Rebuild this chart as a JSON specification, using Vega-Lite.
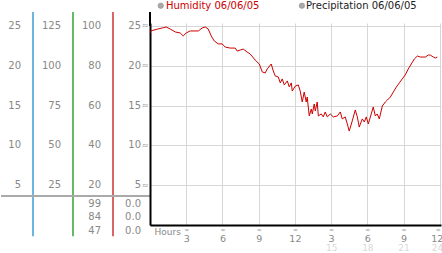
{
  "$schema": "https://vega.github.io/schema/vega-lite/v6.json",
  "background": "white",
  "padding": {"left": 0, "top": 0, "right": 0, "bottom": 0},
  "spacing": 0,
  "bounds": "flush",
  "config": {
    "view": {"stroke": null},
    "font": "DejaVu Sans",
    "axis": {"labelFont": "DejaVu Sans", "titleFont": "DejaVu Sans"},
    "text": {"font": "DejaVu Sans"}
  },
  "resolve": {"scale": {"x": "independent", "y": "independent"}},
  "datasets": {
    "scaleLabels": [
      {"col": "A", "level": 100, "label": "25"},
      {"col": "A", "level": 80, "label": "20"},
      {"col": "A", "level": 60, "label": "15"},
      {"col": "A", "level": 40, "label": "10"},
      {"col": "A", "level": 20, "label": "5"},
      {"col": "B", "level": 100, "label": "125"},
      {"col": "B", "level": 80, "label": "100"},
      {"col": "B", "level": 60, "label": "75"},
      {"col": "B", "level": 40, "label": "50"},
      {"col": "B", "level": 20, "label": "25"},
      {"col": "C", "level": 100, "label": "100"},
      {"col": "C", "level": 80, "label": "80"},
      {"col": "C", "level": 60, "label": "60"},
      {"col": "C", "level": 40, "label": "40"},
      {"col": "C", "level": 20, "label": "20"},
      {"col": "D", "level": 100, "label": "25"},
      {"col": "D", "level": 80, "label": "20"},
      {"col": "D", "level": 60, "label": "15"},
      {"col": "D", "level": 40, "label": "10"},
      {"col": "D", "level": 20, "label": "5"},
      {"col": "C", "level": 10.8, "label": "99"},
      {"col": "C", "level": 3.9, "label": "84"},
      {"col": "C", "level": -3.2, "label": "47"},
      {"col": "D", "level": 10.8, "label": "0.0"},
      {"col": "D", "level": 3.9, "label": "0.0"},
      {"col": "D", "level": -3.2, "label": "0.0"}
    ],
    "axisLines": [{"col": "A"}, {"col": "B"}, {"col": "C"}],
    "humidity": [
      {"hour": 0.0, "humidity": 96.5}, {"hour": 0.1, "humidity": 97.6}, {"hour": 0.6, "humidity": 98.4},
      {"hour": 1.09, "humidity": 99.1}, {"hour": 1.34, "humidity": 99.5}, {"hour": 1.67, "humidity": 98.5},
      {"hour": 2.09, "humidity": 97.0}, {"hour": 2.5, "humidity": 96.5}, {"hour": 2.75, "humidity": 95.0},
      {"hour": 3.0, "humidity": 96.5}, {"hour": 3.33, "humidity": 97.5}, {"hour": 4.0, "humidity": 97.5},
      {"hour": 4.32, "humidity": 99.0}, {"hour": 4.57, "humidity": 99.5}, {"hour": 4.82, "humidity": 98.5},
      {"hour": 5.07, "humidity": 95.0}, {"hour": 5.32, "humidity": 92.5}, {"hour": 5.65, "humidity": 91.0},
      {"hour": 5.98, "humidity": 91.0}, {"hour": 6.23, "humidity": 89.4}, {"hour": 6.64, "humidity": 88.9},
      {"hour": 7.06, "humidity": 88.9}, {"hour": 7.22, "humidity": 87.4}, {"hour": 7.47, "humidity": 87.9},
      {"hour": 7.72, "humidity": 88.4}, {"hour": 8.05, "humidity": 86.9}, {"hour": 8.3, "humidity": 85.9},
      {"hour": 8.71, "humidity": 82.9}, {"hour": 9.05, "humidity": 80.9}, {"hour": 9.3, "humidity": 76.9},
      {"hour": 9.54, "humidity": 76.4}, {"hour": 9.71, "humidity": 78.4}, {"hour": 10.04, "humidity": 80.9},
      {"hour": 10.21, "humidity": 77.4}, {"hour": 10.37, "humidity": 74.9}, {"hour": 10.62, "humidity": 74.4},
      {"hour": 10.79, "humidity": 71.4}, {"hour": 10.95, "humidity": 73.4}, {"hour": 11.12, "humidity": 70.4},
      {"hour": 11.37, "humidity": 72.4}, {"hour": 11.53, "humidity": 69.4}, {"hour": 11.7, "humidity": 71.4},
      {"hour": 11.78, "humidity": 67.3}, {"hour": 12.03, "humidity": 69.8}, {"hour": 12.28, "humidity": 70.4},
      {"hour": 12.44, "humidity": 67.3}, {"hour": 12.61, "humidity": 61.8}, {"hour": 12.77, "humidity": 66.8},
      {"hour": 12.94, "humidity": 61.8}, {"hour": 13.02, "humidity": 64.3}, {"hour": 13.19, "humidity": 54.8},
      {"hour": 13.36, "humidity": 58.3}, {"hour": 13.44, "humidity": 55.8}, {"hour": 13.6, "humidity": 60.8},
      {"hour": 13.69, "humidity": 57.3}, {"hour": 13.85, "humidity": 61.8}, {"hour": 13.94, "humidity": 54.8},
      {"hour": 14.18, "humidity": 55.8}, {"hour": 14.35, "humidity": 54.3}, {"hour": 14.51, "humidity": 56.8},
      {"hour": 14.68, "humidity": 54.3}, {"hour": 14.93, "humidity": 55.8}, {"hour": 15.18, "humidity": 54.3},
      {"hour": 15.51, "humidity": 54.8}, {"hour": 15.76, "humidity": 56.8}, {"hour": 15.92, "humidity": 53.3},
      {"hour": 16.17, "humidity": 54.3}, {"hour": 16.34, "humidity": 50.8}, {"hour": 16.5, "humidity": 47.2},
      {"hour": 16.75, "humidity": 52.3}, {"hour": 17.0, "humidity": 57.8}, {"hour": 17.17, "humidity": 54.3},
      {"hour": 17.33, "humidity": 49.2}, {"hour": 17.58, "humidity": 53.3}, {"hour": 17.75, "humidity": 51.8},
      {"hour": 17.91, "humidity": 54.3}, {"hour": 18.08, "humidity": 50.8}, {"hour": 18.25, "humidity": 54.3},
      {"hour": 18.49, "humidity": 59.3}, {"hour": 18.66, "humidity": 54.8}, {"hour": 18.82, "humidity": 55.8},
      {"hour": 18.99, "humidity": 53.3}, {"hour": 19.24, "humidity": 59.8}, {"hour": 19.49, "humidity": 61.8},
      {"hour": 19.66, "humidity": 62.8}, {"hour": 19.9, "humidity": 64.3}, {"hour": 20.15, "humidity": 66.8},
      {"hour": 20.4, "humidity": 69.3}, {"hour": 20.65, "humidity": 71.4}, {"hour": 20.89, "humidity": 73.4},
      {"hour": 21.14, "humidity": 75.4}, {"hour": 21.39, "humidity": 78.4}, {"hour": 21.64, "humidity": 80.9},
      {"hour": 21.89, "humidity": 83.4}, {"hour": 22.14, "humidity": 84.9}, {"hour": 22.39, "humidity": 84.4},
      {"hour": 22.8, "humidity": 84.4}, {"hour": 23.05, "humidity": 85.4}, {"hour": 23.21, "humidity": 85.4},
      {"hour": 23.46, "humidity": 84.4}, {"hour": 23.63, "humidity": 83.9}, {"hour": 23.8, "humidity": 84.4}
    ]
  },
  "hconcat": [
    {
      "width": 149,
      "height": 202,
      "layer": [
        {
          "data": {"name": "axisLines"},
          "mark": {"type": "rule", "strokeWidth": 1.5},
          "encoding": {
            "x": {"field": "col", "type": "nominal", "bandPosition": 1.3,
                  "scale": {"domain": ["A", "B", "C", "D"], "range": [-20, 140], "paddingInner": 0, "paddingOuter": 0},
                  "axis": null},
            "y": {"datum": 107, "type": "quantitative", "scale": {"domain": [0, 101.5], "nice": false, "zero": false}, "axis": null},
            "y2": {"datum": -5.7},
            "color": {"field": "col", "type": "nominal", "scale": {"domain": ["A", "B", "C"], "range": ["#3a9fd6", "#33a333", "#cc3333"]}, "legend": null}
          }
        },
        {
          "data": {"values": [{}]},
          "mark": {"type": "rule", "color": "#aaaaaa", "strokeWidth": 2},
          "encoding": {"y": {"datum": 14.6, "type": "quantitative", "axis": null}}
        },
        {
          "data": {"name": "scaleLabels"},
          "mark": {"type": "text", "align": "right", "baseline": "middle", "fontSize": 10, "color": "#888888"},
          "encoding": {
            "x": {"field": "col", "type": "nominal", "bandPosition": 1, "axis": null},
            "y": {"field": "level", "type": "quantitative", "axis": null},
            "text": {"field": "label", "type": "nominal"}
          }
        }
      ]
    },
    {
      "width": 291,
      "height": 202,
      "data": {"name": "humidity"},
      "resolve": {"axis": {"x": "independent", "y": "independent"}},
      "layer": [
        {
          "mark": {"type": "line", "color": "#cc0000", "strokeWidth": 1},
          "encoding": {
            "x": {"field": "hour", "type": "quantitative",
                  "scale": {"domain": [0, 24.1], "nice": false, "zero": false},
                  "axis": {"orient": "bottom", "values": [3, 6, 9, 12, 15, 18, 21, 24], "labelExpr": "datum.value > 12 ? datum.value - 12 : datum.value",
                           "labelAlign": {"condition": {"test": "datum.value == 24", "value": "right"}, "value": "center"},
                           "labelOffset": {"condition": {"test": "datum.value == 24", "value": 3}, "value": 0},
                           "grid": true, "gridColor": "#d6d6d6", "domainColor": "#000000", "domainWidth": 2,
                           "ticks": false, "labelPadding": 8, "labelColor": "#888888", "labelFontSize": 9.5, "labelBound": false, "title": null}},
            "y": {"field": "humidity", "type": "quantitative",
                  "scale": {"domain": [0, 101.5], "nice": false, "zero": false},
                  "axis": {"orient": "left", "values": [20, 40, 60, 80, 100], "labelExpr": "'≈'", "labelFontSize": 8, "labelColor": "#999999",
                           "labelPadding": 2, "grid": true, "gridColor": "#d6d6d6", "domainColor": "#000000", "domainWidth": 2,
                           "ticks": false, "title": null}}
          }
        },
        {
          "mark": {"type": "line", "opacity": 0},
          "encoding": {
            "x": {"field": "hour", "type": "quantitative",
                  "axis": {"orient": "bottom", "values": [15, 18, 21, 24], "labelColor": "#d8d8d8", "labelFontSize": 9, "labelPadding": 18,
                           "labelAlign": {"condition": {"test": "datum.value == 24", "value": "right"}, "value": "center"},
                           "labelOffset": {"condition": {"test": "datum.value == 24", "value": 3}, "value": 0},
                           "grid": false, "domain": false, "ticks": false, "labelBound": false, "title": null}},
            "y": {"field": "humidity", "type": "quantitative", "axis": null}
          }
        },
        {
          "mark": {"type": "line", "opacity": 0},
          "encoding": {
            "x": {"field": "hour", "type": "quantitative",
                  "axis": {"orient": "bottom", "values": [3, 6, 9, 12, 15, 18, 21, 24], "labelExpr": "'≈'", "labelColor": "#999999", "labelFontSize": 6,
                           "labelOffset": {"condition": {"test": "datum.value == 24", "value": -2}, "value": 0},
                           "labelPadding": 1, "grid": false, "domain": false, "ticks": false, "labelBound": false, "title": null}},
            "y": {"field": "humidity", "type": "quantitative", "axis": null}
          }
        },
        {
          "mark": {"type": "line", "opacity": 0},
          "encoding": {
            "x": {"field": "hour", "type": "quantitative",
                  "axis": {"orient": "bottom", "values": [0], "labelExpr": "'Hours'", "labelAlign": "left", "labelOffset": 4, "labelColor": "#888888",
                           "labelFontSize": 9, "labelPadding": 2, "grid": false, "domain": false, "ticks": false, "title": null}},
            "y": {"field": "humidity", "type": "quantitative", "axis": null}
          }
        },
        {
          "data": {"values": [{}]},
          "mark": {"type": "rule", "color": "#000000", "strokeWidth": 2},
          "encoding": {
            "x": {"datum": 0, "type": "quantitative", "axis": null},
            "y": {"datum": 100, "type": "quantitative", "axis": null},
            "y2": {"datum": 107}
          }
        },
        {
          "data": {"values": [{}]},
          "mark": {"type": "point", "shape": "circle", "filled": true, "size": 30, "color": "#aaaaaa", "stroke": "#888888", "strokeWidth": 0.5, "opacity": 1},
          "encoding": {
            "x": {"datum": 0.89, "type": "quantitative", "axis": null},
            "y": {"datum": 110.2, "type": "quantitative", "axis": null}
          }
        },
        {
          "data": {"values": [{}]},
          "mark": {"type": "text", "align": "left", "baseline": "middle", "fontSize": 10, "color": "#cc0000"},
          "encoding": {
            "x": {"datum": 1.32, "type": "quantitative", "axis": null},
            "y": {"datum": 110.2, "type": "quantitative", "axis": null},
            "text": {"value": "Humidity 06/06/05"}
          }
        },
        {
          "data": {"values": [{}]},
          "mark": {"type": "point", "shape": "circle", "filled": true, "size": 30, "color": "#aaaaaa", "stroke": "#888888", "strokeWidth": 0.5, "opacity": 1},
          "encoding": {
            "x": {"datum": 12.58, "type": "quantitative", "axis": null},
            "y": {"datum": 110.2, "type": "quantitative", "axis": null}
          }
        },
        {
          "data": {"values": [{}]},
          "mark": {"type": "text", "align": "left", "baseline": "middle", "fontSize": 10, "color": "#222222"},
          "encoding": {
            "x": {"datum": 12.92, "type": "quantitative", "axis": null},
            "y": {"datum": 110.2, "type": "quantitative", "axis": null},
            "text": {"value": "Precipitation 06/06/05"}
          }
        }
      ]
    }
  ]
}
